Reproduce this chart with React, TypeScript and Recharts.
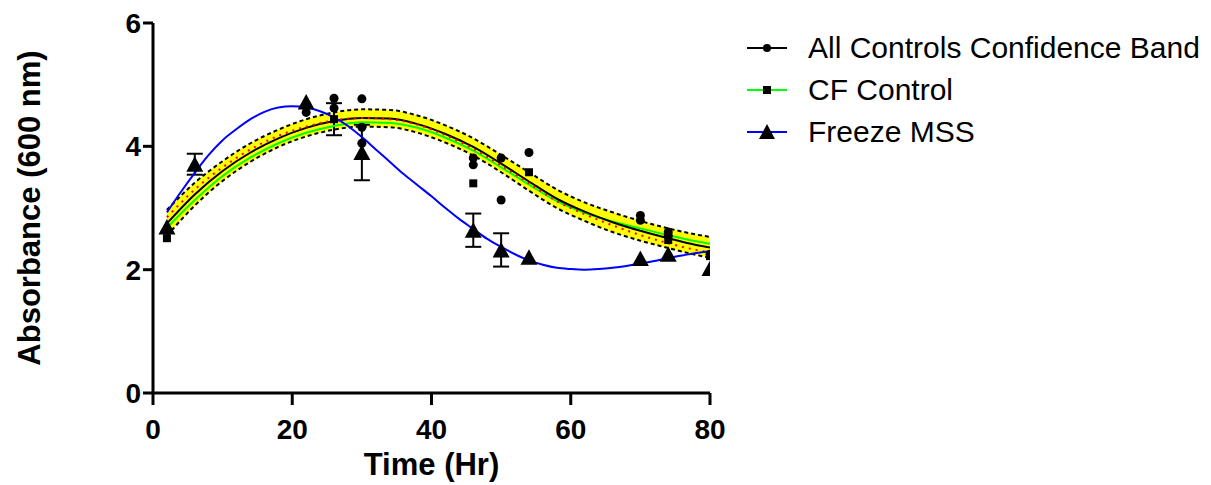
import React from "react";
import {
  ComposedChart, Line, Area, Scatter, ErrorBar, XAxis, YAxis, Legend,
} from "recharts";

// fitted curves (x in hours)
const curveX = [2, 6, 10, 14, 18, 22, 26, 30, 34, 38, 42, 46, 50, 54, 58, 62, 66, 70, 74, 78, 80];
const allFit = [2.75, 3.22, 3.6, 3.9, 4.13, 4.3, 4.41, 4.46, 4.45, 4.36, 4.2, 3.99, 3.72, 3.43, 3.15, 2.94, 2.77, 2.63, 2.51, 2.4, 2.36];
const cfFit = [2.68, 3.13, 3.52, 3.82, 4.05, 4.22, 4.33, 4.39, 4.38, 4.3, 4.14, 3.93, 3.66, 3.38, 3.11, 2.92, 2.78, 2.67, 2.56, 2.46, 2.42];
const redFit = [2.85, 3.3, 3.66, 3.95, 4.17, 4.32, 4.42, 4.46, 4.44, 4.35, 4.18, 3.96, 3.69, 3.4, 3.11, 2.9, 2.72, 2.56, 2.43, 2.32, 2.28];
const bandHi = [2.97, 3.41, 3.76, 4.05, 4.27, 4.44, 4.55, 4.6, 4.59, 4.5, 4.34, 4.13, 3.86, 3.58, 3.3, 3.09, 2.93, 2.79, 2.67, 2.57, 2.53];
const bandLo = [2.55, 3.04, 3.44, 3.75, 3.99, 4.16, 4.27, 4.32, 4.31, 4.22, 4.06, 3.85, 3.58, 3.28, 3.0, 2.79, 2.61, 2.47, 2.35, 2.24, 2.19];

const freezeX = [2, 4, 6, 8, 10, 12, 14, 16, 18, 20, 22, 24, 26, 28, 30, 32, 34, 36, 38, 40, 42, 44, 46, 48, 50, 52, 54, 56, 58, 60, 62, 64, 66, 68, 70, 72, 74, 76, 78, 80];
const freezeFit = [2.93, 3.26, 3.57, 3.86, 4.1, 4.28, 4.44, 4.56, 4.63, 4.65, 4.63, 4.57, 4.47, 4.33, 4.15, 3.95, 3.75, 3.55, 3.37, 3.19, 3.0, 2.82, 2.66, 2.5, 2.37, 2.25, 2.15, 2.08, 2.03, 2.01, 2.0, 2.01, 2.03, 2.06, 2.1, 2.14, 2.19, 2.23, 2.27, 2.3];

// raw points
const allX = [22, 26, 26, 30, 30, 30, 46, 46, 50, 50, 54, 70, 70, 74, 74, 80];
const allY = [4.55, 4.78, 4.62, 4.77, 4.31, 4.05, 3.81, 3.7, 3.81, 3.13, 3.9, 2.88, 2.8, 2.61, 2.55, 2.25];

const cfX = [2, 26, 46, 54, 74, 80];
const cfY = [2.51, 4.44, 3.4, 3.58, 2.48, 2.22];
const cfErr = [0, 0.26, 0, 0, 0, 0];

const mssX = [2, 6, 22, 30, 46, 50, 54, 70, 74, 80];
const mssY = [2.69, 3.71, 4.72, 3.9, 2.64, 2.32, 2.2, 2.18, 2.25, 2.02];
const mssErr = [0, 0.17, 0, 0.45, 0.27, 0.27, 0, 0, 0, 0];

const xTicks = [0, 20, 40, 60, 80];
const yTicks = [0, 2, 4, 6];

const LEGEND = [
  { name: "All Controls Confidence Band", color: "#000000", marker: "circle" },
  { name: "CF Control", color: "#00FF00", marker: "square" },
  { name: "Freeze MSS", color: "#0000FF", marker: "triangle" },
];

const curveRows = curveX.map((x, i) => ({
  x, all: allFit[i], cf: cfFit[i], red: redFit[i], hi: bandHi[i], lo: bandLo[i], band: [bandLo[i], bandHi[i]],
}));
const freezeRows = freezeX.map((x, i) => ({ x, mss: freezeFit[i] }));
const allPts = allX.map((x, i) => ({ x, y: allY[i] }));
const cfPts = cfX.map((x, i) => ({ x, y: cfY[i], err: cfErr[i] }));
const mssPts = mssX.map((x, i) => ({ x, y: mssY[i], err: mssErr[i] }));

const FONT = "Arial, 'Liberation Sans', sans-serif";
const tickStyle = { fill: "#000", fontSize: 28, fontWeight: "bold", fontFamily: FONT };

// prism-style triangle, centred on its mid-height
const Tri = (p: any) => (
  <path d={`M${p.cx},${p.cy - 8} L${p.cx + 8.5},${p.cy + 7.5} L${p.cx - 8.5},${p.cy + 7.5} Z`} fill="#000" />
);

function LegendBox() {
  return (
    <div style={{ fontFamily: FONT, fontSize: 30, color: "#000" }}>
      {LEGEND.map((d) => (
        <div key={d.name} style={{ display: "flex", alignItems: "center", height: 42 }}>
          <svg width={44} height={42}>
            <line x1={2} x2={42} y1={21} y2={21} stroke={d.color} strokeWidth={2} />
            {d.marker === "circle" && <circle cx={22} cy={21} r={4} fill="#000" />}
            {d.marker === "square" && <rect x={18} y={17} width={8} height={8} fill="#000" />}
            {d.marker === "triangle" && <path d="M22,13 L30,28 L14,28 Z" fill="#000" />}
          </svg>
          <span style={{ marginLeft: 19, lineHeight: "42px", whiteSpace: "nowrap" }}>{d.name}</span>
        </div>
      ))}
    </div>
  );
}

export default function App() {
  return (
    <div style={{ position: "absolute", left: 0, top: 0, background: "#fff" }}>
      <ComposedChart width={1211} height={485} margin={{ top: 23, right: 501, bottom: 0, left: 0 }}>
        <XAxis
          type="number" dataKey="x" domain={[0, 80]} ticks={xTicks} allowDataOverflow
          height={92} tickSize={12} tickMargin={14} tick={tickStyle}
          axisLine={{ stroke: "#000", strokeWidth: 3 }} tickLine={{ stroke: "#000", strokeWidth: 3 }}
          label={{ value: "Time (Hr)", position: "insideBottom", offset: 10, style: { fill: "#000", fontSize: 31, fontWeight: "bold", fontFamily: FONT } }}
        />
        <YAxis
          type="number" dataKey="y" domain={[0, 6]} ticks={yTicks} allowDataOverflow
          width={153} tickSize={10} tickMargin={2} tick={tickStyle}
          axisLine={{ stroke: "#000", strokeWidth: 3 }} tickLine={{ stroke: "#000", strokeWidth: 3 }}
          label={{ value: "Absorbance (600 nm)", angle: -90, position: "insideLeft", offset: 29, style: { textAnchor: "middle", fill: "#000", fontSize: 31, fontWeight: "bold", fontFamily: FONT } }}
        />
        <Scatter data={allPts} fill="#000" shape="circle" size={60} isAnimationActive={false} legendType="none" />
        <Scatter data={cfPts} fill="#000" shape="square" size={64} isAnimationActive={false} legendType="none">
          <ErrorBar dataKey="err" direction="y" width={8} stroke="#000" strokeWidth={2} />
        </Scatter>
        <Scatter data={mssPts} fill="#000" shape={Tri} isAnimationActive={false} legendType="none">
          <ErrorBar dataKey="err" direction="y" width={8} stroke="#000" strokeWidth={2} />
        </Scatter>
        <Area data={curveRows} dataKey="band" type="monotone" stroke="none" fill="#FFFF00" fillOpacity={1} isAnimationActive={false} dot={false} activeDot={false} />
        <Line data={curveRows} dataKey="hi" type="monotone" stroke="#000" strokeWidth={2} strokeDasharray="4 3" dot={false} activeDot={false} isAnimationActive={false} />
        <Line data={curveRows} dataKey="lo" type="monotone" stroke="#000" strokeWidth={2} strokeDasharray="4 3" dot={false} activeDot={false} isAnimationActive={false} />
        <Line data={curveRows} dataKey="cf" type="monotone" stroke="#00FF00" strokeWidth={2} dot={false} activeDot={false} isAnimationActive={false} />
        <Line data={curveRows} dataKey="all" type="monotone" stroke="#000" strokeWidth={2} dot={false} activeDot={false} isAnimationActive={false} />
        <Line data={curveRows} dataKey="red" type="monotone" stroke="#FF0000" strokeWidth={2} strokeDasharray="2 5" dot={false} activeDot={false} isAnimationActive={false} />
        <Line data={freezeRows} dataKey="mss" type="monotone" stroke="#0000FF" strokeWidth={2} dot={false} activeDot={false} isAnimationActive={false} />
        <Legend layout="vertical" align="center" verticalAlign="middle" wrapperStyle={{ left: 745, top: 27, width: 466 }} content={() => <LegendBox />} />
      </ComposedChart>
    </div>
  );
}
